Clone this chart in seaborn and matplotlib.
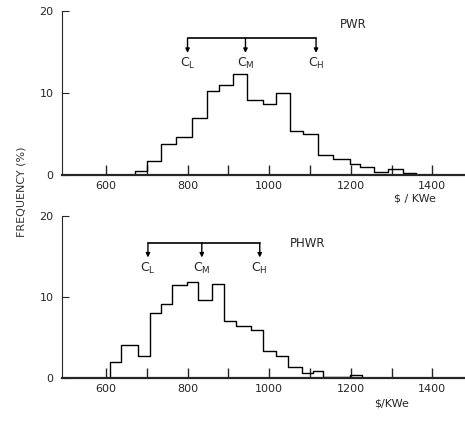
import seaborn as sns
import matplotlib.pyplot as plt
import numpy as np
import pandas as pd

# PWR histogram (bin edges in $/KWe, frequency in %)
pwr_edges = [640, 671, 700, 736, 771, 812, 847, 878, 912, 945, 985, 1018, 1051,
             1082, 1120, 1157, 1198, 1223, 1257, 1292, 1327, 1361, 1400]
pwr_freq = [0.0, 0.5, 1.7, 3.8, 4.7, 6.9, 10.2, 11.0, 12.3, 9.2, 8.65, 10.0, 5.4,
            5.0, 2.5, 2.0, 1.35, 1.0, 0.4, 0.7, 0.2, 0.0]

# PHWR histogram
phwr_edges = [580, 610, 638, 679, 708, 734, 761, 798, 826, 859, 890, 920, 955, 984,
              1017, 1047, 1080, 1108, 1132, 1165, 1198, 1227, 1260]
phwr_freq = [0.0, 2.0, 4.1, 2.7, 8.0, 9.2, 11.5, 11.9, 9.7, 11.6, 7.0, 6.4, 6.0,
             3.4, 2.7, 1.4, 0.6, 0.9, 0.2, 0.1, 0.4, 0.0]

# low / median / high cost markers
pwr_c = [800, 942, 1115]
phwr_c = [703, 835, 977]
c_labels = [r'C$_{\rm L}$', r'C$_{\rm M}$', r'C$_{\rm H}$']

x_ticks = list(range(600, 1500, 100))
x_ticklabels = ['600', '', '800', '', '1000', '', '1200', '', '1400']
y_ticks = [0, 10, 20]


def draw_panel(ax, edges, freq, cvals, name, name_xy):
    e = np.array(edges, dtype=float)
    centers = (e[:-1] + e[1:]) / 2
    df = pd.DataFrame({'cost': centers, 'freq': freq})
    sns.histplot(data=df, x='cost', weights='freq', bins=list(edges), element='step',
                 fill=False, color='black', linewidth=1.0, ax=ax)

    ax.set_xlim(492, 1480)
    ax.set_ylim(0, 20)
    ax.set_xticks(x_ticks)
    ax.set_xticklabels(x_ticklabels)
    ax.set_yticks(y_ticks)
    ax.tick_params(axis='x', direction='in', length=7, width=1, pad=4, labelsize=8)
    ax.tick_params(axis='y', direction='in', length=5, width=0.8, pad=6, labelsize=8)
    ax.set_xlabel('')
    ax.set_ylabel('')
    for s in ['top', 'right']:
        ax.spines[s].set_visible(False)
    ax.spines['bottom'].set_linewidth(1.6)
    ax.spines['left'].set_linewidth(0.8)

    # bracket with arrows
    y_bar, y_tip, y_lab = 16.7, 14.9, 13.6
    ax.plot([cvals[0], cvals[-1]], [y_bar, y_bar], color='black', lw=1.2)
    for c, lab in zip(cvals, c_labels):
        ax.annotate('', xy=(c, y_tip), xytext=(c, y_bar),
                    arrowprops=dict(arrowstyle='-|>', color='black', lw=1,
                                    mutation_scale=6, shrinkA=0, shrinkB=0))
        ax.text(c, y_lab, lab, ha='center', va='center', fontsize=9)
    ax.text(name_xy[0], name_xy[1], name, ha='left', va='center', fontsize=8.5)


sns.set_style('ticks')
plt.rcParams['font.family'] = ['DejaVu Sans']

fig = plt.figure(figsize=(4.65, 4.23), dpi=100)
ax1 = fig.add_axes([0.133, 0.586, 0.867, 0.388])
ax2 = fig.add_axes([0.133, 0.106, 0.867, 0.383])

draw_panel(ax1, pwr_edges, pwr_freq, pwr_c, 'PWR', (1173, 18.3))
draw_panel(ax2, phwr_edges, phwr_freq, phwr_c, 'PHWR', (1051, 16.6))

fig.text(0.893, 0.530, r'\$ / KWe', ha='center', va='center', fontsize=8)
fig.text(0.843, 0.047, r'\$/KWe', ha='center', va='center', fontsize=8)
fig.text(0.047, 0.546, 'FREQUENCY (%)', rotation=90, ha='center', va='center',
         fontsize=8, color='#333333')

fig.savefig('out.png', dpi=100)
